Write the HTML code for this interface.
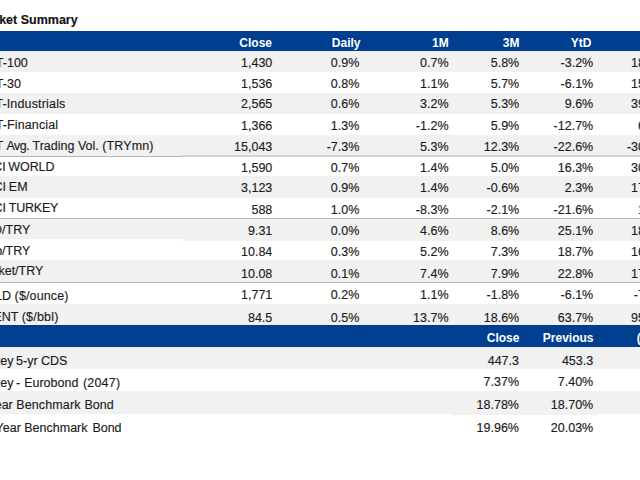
<!DOCTYPE html><html><head><meta charset="utf-8"><title>Market Summary</title><style>
html,body{margin:0;padding:0;background:#fff;}
html{overflow:hidden;}
body{width:640px;height:480px;overflow:hidden;}
#w{position:relative;width:640px;height:480px;overflow:hidden;background:#fff;font-family:"Liberation Sans",sans-serif;color:#1c1c1c;}
.r{position:absolute;left:0;width:640px;}
.t{position:absolute;white-space:nowrap;font-size:12.5px;line-height:14px;-webkit-text-stroke:0.15px #1c1c1c;}
.h{position:absolute;white-space:nowrap;font-size:12px;line-height:14px;font-weight:bold;color:#fff;}
.v{text-align:right;}
</style></head><body><div id="w">
<div class="t" style="left:-23.1px;top:13px;font-size:12.5px;font-weight:bold;color:#111;">Market Summary</div>
<div class="r" style="left:0px;width:640px;top:31.4px;height:19.2px;background:#003f8f;"></div>
<div class="h v" style="right:368px;top:36px;">Close</div>
<div class="h v" style="right:279.5px;top:36px;">Daily</div>
<div class="h v" style="right:191.3px;top:36px;">1M</div>
<div class="h v" style="right:120.5px;top:36px;">3M</div>
<div class="h v" style="right:48.5px;top:36px;">YtD</div>
<div class="h v" style="right:-28px;top:36px;">1Y</div>
<div class="r" style="left:0px;width:640px;top:50.6px;height:21.5px;background:#f1f1f1;"></div>
<div class="r" style="left:0px;width:640px;top:92.9px;height:20.85px;background:#f1f1f1;"></div>
<div class="r" style="left:0px;width:640px;top:134.6px;height:22.1px;background:#f1f1f1;"></div>
<div class="r" style="left:0px;width:640px;top:176.1px;height:22px;background:#f1f1f1;"></div>
<div class="r" style="left:0px;width:640px;top:219px;height:21.2px;background:#f1f1f1;"></div>
<div class="r" style="left:0px;width:640px;top:260px;height:22.5px;background:#f1f1f1;"></div>
<div class="r" style="left:0px;width:640px;top:304.4px;height:20.6px;background:#f1f1f1;"></div>
<div class="r" style="left:0px;width:182px;top:239.4px;height:0.9px;background:#fff;"></div>
<div class="r" style="left:182px;width:458px;top:240.2px;height:0.5px;background:#f1f1f1;"></div>
<div class="r" style="left:0px;width:182px;top:155.7px;height:1px;background:#b6b6b6;"></div>
<div class="r" style="left:182px;width:458px;top:155.3px;height:1.5px;background:#d3d3d3;"></div>
<div class="r" style="left:0px;width:640px;top:217.8px;height:1px;background:#bababa;"></div>
<div class="r" style="left:0px;width:640px;top:281.6px;height:1px;background:#b8b8b8;"></div>
<div class="t" style="left:-24.3px;top:56px;">BIST-100</div>
<div class="t v" style="right:367.7px;top:56px;">1,430</div>
<div class="t v" style="right:280.7px;top:56px;">0.9%</div>
<div class="t v" style="right:191.5px;top:56px;">0.7%</div>
<div class="t v" style="right:120.8px;top:56px;">5.8%</div>
<div class="t v" style="right:46.8px;top:56px;">-3.2%</div>
<div class="t v" style="right:-26.5px;top:56px;">18.2%</div>
<div class="t" style="left:-24.3px;top:77px;">BIST-30</div>
<div class="t v" style="right:367.7px;top:77px;">1,536</div>
<div class="t v" style="right:280.7px;top:77px;">0.8%</div>
<div class="t v" style="right:191.5px;top:77px;">1.1%</div>
<div class="t v" style="right:120.8px;top:77px;">5.7%</div>
<div class="t v" style="right:46.8px;top:77px;">-6.1%</div>
<div class="t v" style="right:-26.5px;top:77px;">15.1%</div>
<div class="t" style="left:-24.6px;top:97px;">BIST-<span style="letter-spacing:0.17px;">Industrials</span></div>
<div class="t v" style="right:367.7px;top:97px;">2,565</div>
<div class="t v" style="right:280.7px;top:97px;">0.6%</div>
<div class="t v" style="right:191.5px;top:97px;">3.2%</div>
<div class="t v" style="right:120.8px;top:97px;">5.3%</div>
<div class="t v" style="right:46.8px;top:97px;">9.6%</div>
<div class="t v" style="right:-26.5px;top:97px;">39.4%</div>
<div class="t" style="left:-24.3px;top:118px;">BIST-<span style="letter-spacing:0.14px;">Financial</span></div>
<div class="t v" style="right:367.7px;top:119px;">1,366</div>
<div class="t v" style="right:280.7px;top:119px;">1.3%</div>
<div class="t v" style="right:191.5px;top:119px;">-1.2%</div>
<div class="t v" style="right:120.8px;top:119px;">5.9%</div>
<div class="t v" style="right:46.8px;top:119px;">-12.7%</div>
<div class="t v" style="right:-26.5px;top:119px;">6.2%</div>
<div class="t" style="left:-24.55px;top:139px;">BIST <span style="letter-spacing:-0.5px;">Avg.</span> Trading Vol. <span style="letter-spacing:0.13px;">(TRYmn)</span></div>
<div class="t v" style="right:367.7px;top:140px;">15,043</div>
<div class="t v" style="right:280.7px;top:140px;">-7.3%</div>
<div class="t v" style="right:191.5px;top:140px;">5.3%</div>
<div class="t v" style="right:120.8px;top:140px;">12.3%</div>
<div class="t v" style="right:46.8px;top:140px;">-22.6%</div>
<div class="t v" style="right:-26.5px;top:140px;">-30.1%</div>
<div class="t" style="left:-25.5px;top:160px;">MSCI<span style="letter-spacing:-0.1px;margin-left:-0.8px;"> WORLD</span></div>
<div class="t v" style="right:367.7px;top:161px;">1,590</div>
<div class="t v" style="right:280.7px;top:161px;">0.7%</div>
<div class="t v" style="right:191.5px;top:161px;">1.4%</div>
<div class="t v" style="right:120.8px;top:161px;">5.0%</div>
<div class="t v" style="right:46.8px;top:161px;">16.3%</div>
<div class="t v" style="right:-26.5px;top:161px;">30.2%</div>
<div class="t" style="left:-25.3px;top:180px;">MSCI<span style="margin-left:-0.6px;"> EM</span></div>
<div class="t v" style="right:367.7px;top:181px;">3,123</div>
<div class="t v" style="right:280.7px;top:181px;">0.9%</div>
<div class="t v" style="right:191.5px;top:181px;">1.4%</div>
<div class="t v" style="right:120.8px;top:181px;">-0.6%</div>
<div class="t v" style="right:46.8px;top:181px;">2.3%</div>
<div class="t v" style="right:-26.5px;top:181px;">17.5%</div>
<div class="t" style="left:-25.3px;top:201px;">MSCI<span style="letter-spacing:-0.2px;margin-left:-0.3px;"> TURKEY</span></div>
<div class="t v" style="right:367.7px;top:203px;">588</div>
<div class="t v" style="right:280.7px;top:203px;">1.0%</div>
<div class="t v" style="right:191.5px;top:203px;">-8.3%</div>
<div class="t v" style="right:120.8px;top:203px;">-2.1%</div>
<div class="t v" style="right:46.8px;top:203px;">-21.6%</div>
<div class="t v" style="right:-26.5px;top:203px;">1.2%</div>
<div class="t" style="left:-24.3px;top:223px;">USD/TRY</div>
<div class="t v" style="right:367.7px;top:224px;">9.31</div>
<div class="t v" style="right:280.7px;top:224px;">0.0%</div>
<div class="t v" style="right:191.5px;top:224px;">4.6%</div>
<div class="t v" style="right:120.8px;top:224px;">8.6%</div>
<div class="t v" style="right:46.8px;top:224px;">25.1%</div>
<div class="t v" style="right:-26.5px;top:224px;">18.3%</div>
<div class="t" style="left:-24.3px;top:244px;">Euro/TRY</div>
<div class="t v" style="right:367.7px;top:245px;">10.84</div>
<div class="t v" style="right:280.7px;top:245px;">0.3%</div>
<div class="t v" style="right:191.5px;top:245px;">5.2%</div>
<div class="t v" style="right:120.8px;top:245px;">7.3%</div>
<div class="t v" style="right:46.8px;top:245px;">18.7%</div>
<div class="t v" style="right:-26.5px;top:245px;">16.4%</div>
<div class="t" style="left:-23.1px;top:264px;">Basket/TRY</div>
<div class="t v" style="right:367.7px;top:267px;">10.08</div>
<div class="t v" style="right:280.7px;top:267px;">0.1%</div>
<div class="t v" style="right:191.5px;top:267px;">7.4%</div>
<div class="t v" style="right:120.8px;top:267px;">7.9%</div>
<div class="t v" style="right:46.8px;top:267px;">22.8%</div>
<div class="t v" style="right:-26.5px;top:267px;">17.3%</div>
<div class="t" style="left:-24.3px;top:289px;">GOLD <span style="letter-spacing:0.13px;">($/ounce)</span></div>
<div class="t v" style="right:367.7px;top:288px;">1,771</div>
<div class="t v" style="right:280.7px;top:288px;">0.2%</div>
<div class="t v" style="right:191.5px;top:288px;">1.1%</div>
<div class="t v" style="right:120.8px;top:288px;">-1.8%</div>
<div class="t v" style="right:46.8px;top:288px;">-6.1%</div>
<div class="t v" style="right:-26.5px;top:288px;">-7.2%</div>
<div class="t" style="left:-23.9px;top:310px;">BRENT <span style="letter-spacing:0.2px;">($/bbl)</span></div>
<div class="t v" style="right:367.7px;top:311px;">84.5</div>
<div class="t v" style="right:280.7px;top:311px;">0.5%</div>
<div class="t v" style="right:191.5px;top:311px;">13.7%</div>
<div class="t v" style="right:120.8px;top:311px;">18.6%</div>
<div class="t v" style="right:46.8px;top:311px;">63.7%</div>
<div class="t v" style="right:-26.5px;top:311px;">95.3%</div>
<div class="r" style="left:0px;width:640px;top:325px;height:22.2px;background:#003f8f;"></div>
<div class="h v" style="right:120.6px;top:331px;">Close</div>
<div class="h v" style="right:46.5px;top:331px;">Previous</div>
<div class="h" style="left:636.8px;top:331px;">(bps)</div>
<div class="r" style="left:0px;width:640px;top:347.2px;height:22.2px;background:#f1f1f1;"></div>
<div class="r" style="left:0px;width:640px;top:391.1px;height:22.65px;background:#f1f1f1;"></div>
<div class="r" style="left:452px;width:145px;top:413.75px;height:1.5px;background:#f1f1f1;"></div>
<div class="t" style="left:-24.3px;top:354px;">Turkey<span style="margin-left:-0.9px;"> 5-yr CDS</span></div>
<div class="t v" style="right:121px;top:354px;">447.3</div>
<div class="t v" style="right:46.8px;top:354px;">453.3</div>
<div class="t" style="left:-24.3px;top:376px;">Turkey<span style="margin-left:-1px;"> -</span><span style="margin-left:0.6px;"> Eurobond</span><span style="letter-spacing:0.2px;margin-left:0.9px;"> (2047)</span></div>
<div class="t v" style="right:121px;top:375px;">7.37%</div>
<div class="t v" style="right:46.8px;top:375px;">7.40%</div>
<div class="t" style="left:-22.7px;top:398px;">2 Year <span style="letter-spacing:0.12px;">Benchmark</span><span style="margin-left:0.5px;"> Bond</span></div>
<div class="t v" style="right:121px;top:398px;">18.78%</div>
<div class="t v" style="right:46.8px;top:398px;">18.70%</div>
<div class="t" style="left:-21.6px;top:421px;">10 Year Benchmark<span style="margin-left:1.4px;"> Bond</span></div>
<div class="t v" style="right:121px;top:421px;">19.96%</div>
<div class="t v" style="right:46.8px;top:421px;">20.03%</div>
</div></body></html>
